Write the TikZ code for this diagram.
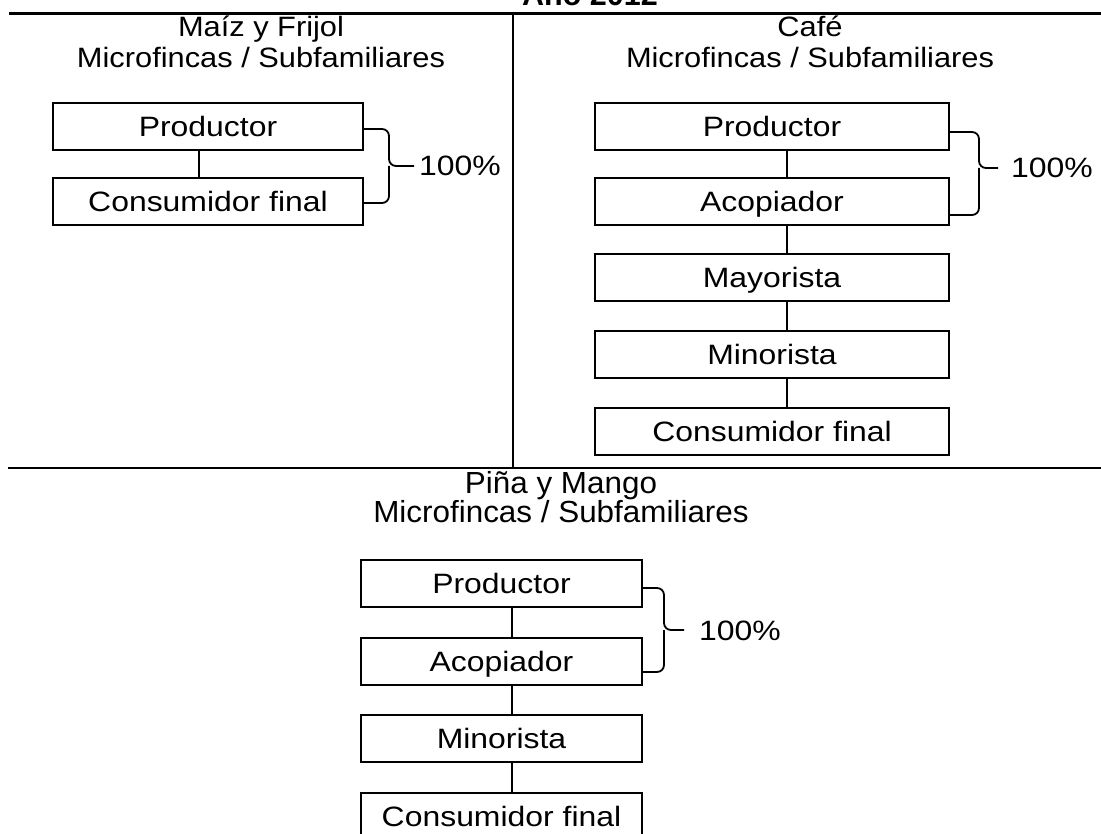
\documentclass[tikz,border=0pt]{standalone}
\usepackage{fontspec}
\setmainfont{Liberation Sans}
\newfontfamily\boxfont[FakeStretch=1.14]{Liberation Sans}
\newfontfamily\headfont[FakeStretch=1.1]{Liberation Sans}
\newfontfamily\lowheadfont[FakeStretch=1.03]{Liberation Sans}
\usetikzlibrary{calc}
\begin{document}
\begin{tikzpicture}[x=1pt,y=-1pt,
 stagebox/.style={draw, line width=2pt, inner sep=0pt, minimum height=47pt,
   font=\boxfont\fontsize{28}{32}\selectfont, text height=20pt, text depth=0pt},
 lbox/.style={stagebox, minimum width=310pt},
 rbox/.style={stagebox, minimum width=354pt},
 bbox/.style={stagebox, minimum width=281pt},
 link/.style={line width=1.6pt},
 brace/.style={line width=1.8pt, rounded corners=7pt},
 pct/.style={font=\boxfont\fontsize{28}{32}\selectfont, inner sep=0pt, anchor=west,
   text height=20pt, text depth=0pt},
 head/.style={font=\headfont\fontsize{28}{30}\selectfont, inner sep=0pt, anchor=base},
 lowhead/.style={font=\lowheadfont\fontsize{30.5}{30}\selectfont, inner sep=0pt, anchor=base},
 divider/.style={line width=2.7pt},
]
\useasboundingbox (0,0) rectangle (1101,834);
\clip (0,0) rectangle (1101,834);

% title and frame lines
\node[font=\bfseries\fontsize{30.5}{30}\selectfont, inner sep=0pt, anchor=base west] (title) at (522,6) {Año 2012};
\coordinate (tl) at (9,13.5); \coordinate (tr) at (1101,13.5);
\coordinate (ml) at (8,468); \coordinate (mr) at (1101,468);
\coordinate (vt) at (513,13.5); \coordinate (vb) at (513,468);
\draw[divider] (tl) -- (tr);
\draw[divider] (ml) -- (mr);
\draw[line width=2pt] (vt) -- (vb);

% headers
\node[head] (lh1) at (261,37) {Maíz y Frijol};
\node[head] (lh2) at (261,68) {Microfincas / Subfamiliares};
\node[head] (rh1) at (810,37) {Café};
\node[head] (rh2) at (810,68) {Microfincas / Subfamiliares};
\node[lowhead] (bh1) at (561,493) {Piña y Mango};
\node[lowhead] (bh2) at (561,522) {Microfincas / Subfamiliares};

% left chain
\node[lbox] (lp) at (208,127) {Productor};
\node[lbox] (lc) at (208,202) {Consumidor final};
\draw[link] ([xshift=-9pt]lp.south) -- ([xshift=-9pt]lc.north);
\draw[brace] ($(lp.east)+(0,2)$) -- ++(25,0) -- ++(0,37) -- ++(25,0) coordinate (ltk);
\draw[brace] ($(lc.east)+(0,1)$) -- ++(25,0) -- ++(0,-37);
\node[pct] (lpct) at ($(ltk)+(5,0)$) {100\%};

% right chain
\node[rbox] (rp) at (772,126.5) {Productor};
\node[rbox] (ra) at (772,202) {Acopiador};
\node[rbox] (rmy) at (772,278) {Mayorista};
\node[rbox] (rmn) at (772,354.5) {Minorista};
\node[rbox] (rc) at (772,431.5) {Consumidor final};
\draw[link] ([xshift=15pt]rp.south) -- ([xshift=15pt]ra.north);
\draw[link] ([xshift=15pt]ra.south) -- ([xshift=15pt]rmy.north);
\draw[link] ([xshift=15pt]rmy.south) -- ([xshift=15pt]rmn.north);
\draw[link] ([xshift=15pt]rmn.south) -- ([xshift=15pt]rc.north);
\draw[brace] ($(rp.east)+(0,5.5)$) -- ++(29,0) -- ++(0,36) -- ++(19,0) coordinate (rtk);
\draw[brace] ($(ra.east)+(0,13)$) -- ++(29,0) -- ++(0,-47);
\node[pct] (rpct) at ($(rtk)+(13,0)$) {100\%};

% bottom chain
\node[bbox] (bp) at (501.5,583.5) {Productor};
\node[bbox] (ba) at (501.5,661) {Acopiador};
\node[bbox] (bmn) at (501.5,738.5) {Minorista};
\node[bbox] (bc) at (501.5,816) {Consumidor final};
\draw[link] ([xshift=10.5pt]bp.south) -- ([xshift=10.5pt]ba.north);
\draw[link] ([xshift=10.5pt]ba.south) -- ([xshift=10.5pt]bmn.north);
\draw[link] ([xshift=10.5pt]bmn.south) -- ([xshift=10.5pt]bc.north);
\draw[brace] ($(bp.east)+(0,4.5)$) -- ++(21,0) -- ++(0,42) -- ++(20,0) coordinate (btk);
\draw[brace] ($(ba.east)+(0,11)$) -- ++(21,0) -- ++(0,-42);
\node[pct] (bpct) at ($(btk)+(15,0)$) {100\%};
\end{tikzpicture}
\end{document}
